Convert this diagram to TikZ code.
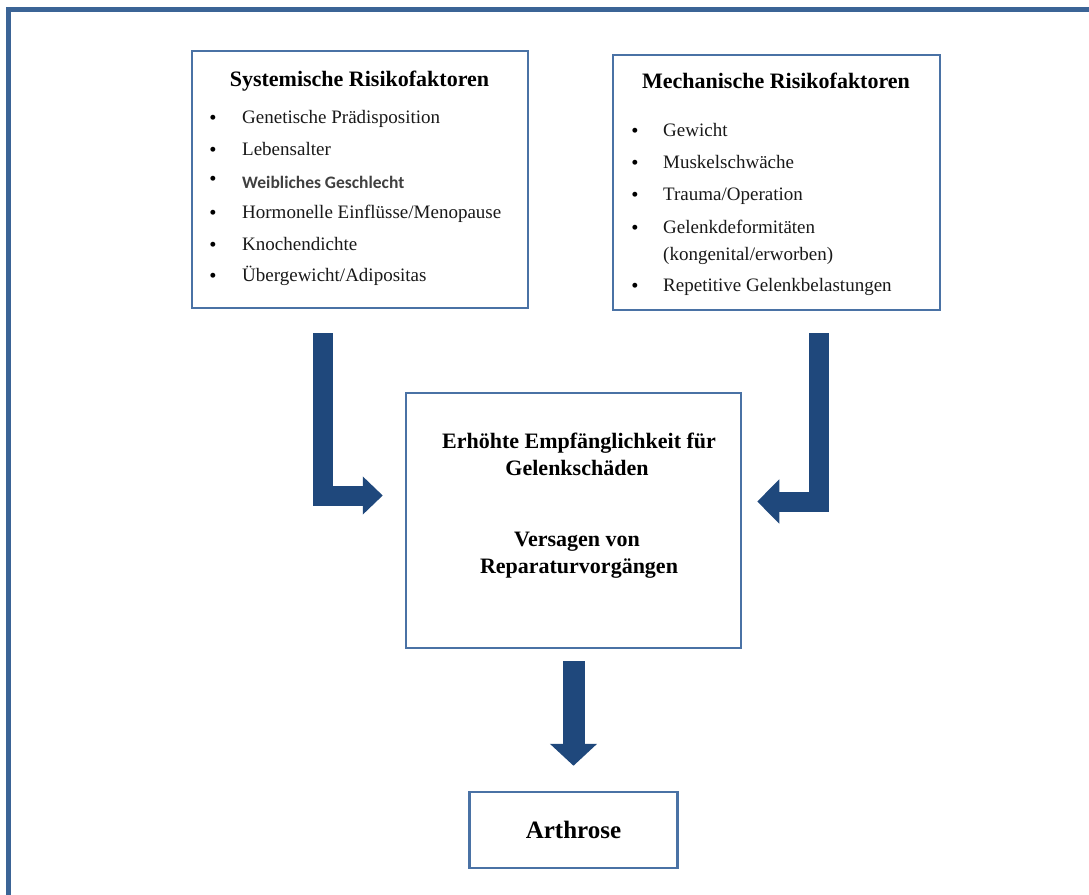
\documentclass[tikz,border=0pt]{standalone}
\usepackage{fontspec}
\setmainfont{Liberation Serif}
\newfontfamily\sansf{Carlito}
\usetikzlibrary{arrows.meta}
\definecolor{framecol}{RGB}{59,100,150}
\definecolor{boxcol}{RGB}{74,114,165}
\definecolor{arrcol}{RGB}{31,72,124}
\definecolor{sanscol}{RGB}{64,64,64}
\definecolor{txtcol}{RGB}{25,25,25}
\tikzset{
  box/.style={draw=boxcol, line width=2.5pt, fill=white, inner sep=0pt},
  ttl/.style={anchor=base, inner sep=0pt, font=\fontsize{22pt}{26pt}\selectfont\bfseries},
  itm/.style={anchor=base west, inner sep=0pt, text=txtcol, font=\fontsize{19pt}{23pt}\selectfont},
  bul/.style={anchor=base, inner sep=0pt, font=\fontsize{20.5pt}{23pt}\selectfont},
  ctxt/.style={anchor=base, inner sep=0pt, font=\fontsize{22pt}{26pt}\selectfont\bfseries},
  blk/.style={draw=arrcol, line join=miter},
}
\begin{document}
\begin{tikzpicture}[x=1pt,y=-1pt]
\useasboundingbox[fill=white] (0,0) rectangle (1089,894);
% outer frame
\draw[draw=framecol, line width=5pt] (8.5,9) rectangle (1110,920);
% boxes
\node[box, minimum width=336pt, minimum height=257pt] (sys) at (360,179.5) {};
\node[box, minimum width=327pt, minimum height=255pt] (mech) at (776.5,182.5) {};
\node[box, minimum width=335pt, minimum height=255pt] (ctr) at (573.5,520.5) {};
\node[box, minimum width=208pt, minimum height=76pt] (arth) at (573.5,830) {};
% systemic
\node[ttl] (sysT) at (359.5,86.7) {Systemische Risikofaktoren};
\node[bul] (sb1) at (213,124) {•};
\node[itm] (s1) at (242,123.3) {Genetische Prädisposition};
\node[bul] (sb2) at (213,156) {•};
\node[itm] (s2) at (242,155) {Lebensalter};
\node[bul] (sb3) at (213,185) {•};
\node[itm, font=\fontsize{17.5pt}{20pt}\sansf\bfseries, text=sanscol] (s3) at (242,188.3) {Weibliches Geschlecht};
\node[bul] (sb4) at (213,219) {•};
\node[itm] (s4) at (242,218.3) {Hormonelle Einflüsse/Menopause};
\node[bul] (sb5) at (213,251) {•};
\node[itm] (s5) at (242,250) {Knochendichte};
\node[bul] (sb6) at (213,282.5) {•};
\node[itm] (s6) at (242,281.7) {Übergewicht/Adipositas};
% mechanical
\node[ttl] (mechT) at (776,88.3) {Mechanische Risikofaktoren};
\node[bul] (mb1) at (635,137.5) {•};
\node[itm] (m1) at (663,136.7) {Gewicht};
\node[bul] (mb2) at (635,169) {•};
\node[itm] (m2) at (663,168.3) {Muskelschwäche};
\node[bul] (mb3) at (635,201) {•};
\node[itm] (m3) at (663,200) {Trauma/Operation};
\node[bul] (mb4) at (635,234) {•};
\node[itm] (m4) at (663,233.3) {Gelenkdeformitäten};
\node[itm] (m4b) at (663,260) {(kongenital/erworben)};
\node[bul] (mb5) at (635,292.5) {•};
\node[itm] (m5) at (663,291.7) {Repetitive Gelenkbelastungen};
% centre
\node[ctxt] (c1) at (579,448.3) {Erhöhte Empfänglichkeit für};
\node[ctxt] (c2) at (577,475) {Gelenkschäden};
\node[ctxt] (c3) at (577,546.7) {Versagen von};
\node[ctxt] (c4) at (579,573.3) {Reparaturvorgängen};
% Arthrose
\node[ctxt, font=\fontsize{25pt}{28pt}\selectfont\bfseries] (a1) at (arth.center |- 0,838.3) {Arthrose};
% arrows
\draw[blk, line width=20pt, -{Triangle[length=20pt,width=37pt]}]
  ([xshift=-37pt,yshift=-24pt]sys.south) |- ([xshift=-22pt,yshift=25pt]ctr.west);
\draw[blk, line width=20pt, -{Triangle[length=22pt,width=43pt]}]
  ([xshift=42.5pt,yshift=-22pt]mech.south) |- ([xshift=15pt,yshift=19pt]ctr.east);
\draw[blk, line width=22pt, -{Triangle[length=22pt,width=46pt]}]
  ([yshift=-12pt]ctr.south) -- ([yshift=25pt]arth.north);
\end{tikzpicture}
\end{document}
